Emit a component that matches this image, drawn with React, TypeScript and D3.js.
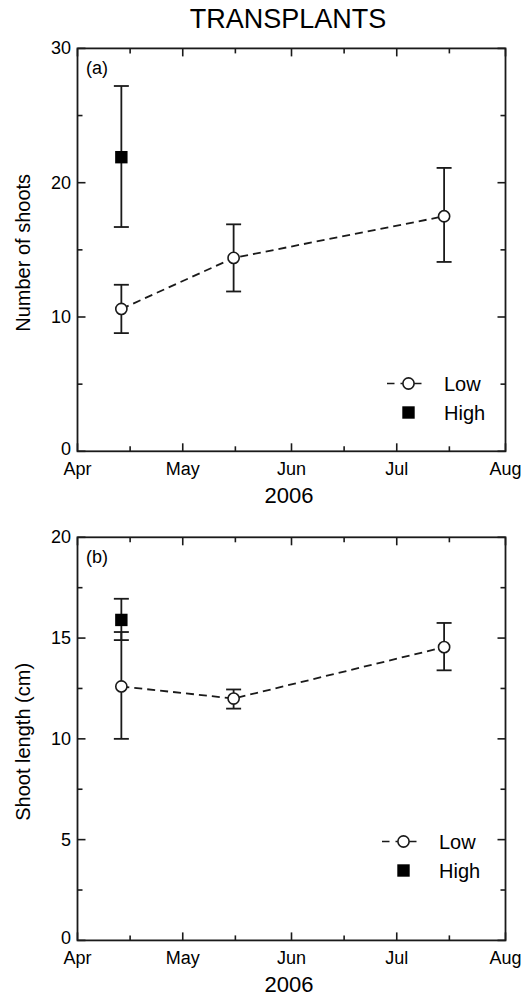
import React, { useEffect, useRef } from 'react';
import * as d3 from 'd3';

// sampling dates (2006)
const sampleDates = ['2006-04-13', '2006-05-15', '2006-07-14'];
const highDates = ['2006-04-13'];
const monthTicks = ['2006-04-01', '2006-05-01', '2006-06-01', '2006-07-01', '2006-08-01'];
const midMonthTicks = ['2006-04-16', '2006-05-16', '2006-06-16', '2006-07-16'];
const monthLabels = ['Apr', 'May', 'Jun', 'Jul', 'Aug'];

// (a) number of shoots
const shootsLow = [10.6, 14.4, 17.5];
const shootsLowMin = [8.8, 11.9, 14.1];
const shootsLowMax = [12.4, 16.9, 21.1];
const shootsHigh = [21.9];
const shootsHighMin = [16.7];
const shootsHighMax = [27.2];
const shootsTicks = [0, 10, 20, 30];
const shootsMinorTicks = [5, 15, 25];

// (b) shoot length (cm)
const lengthLow = [12.6, 12.0, 14.55];
const lengthLowMin = [10.0, 11.5, 13.4];
const lengthLowMax = [15.3, 12.45, 15.75];
const lengthHigh = [15.9];
const lengthHighMin = [14.9];
const lengthHighMax = [16.95];
const lengthTicks = [0, 5, 10, 15, 20];
const lengthMinorTicks = [2.5, 7.5, 12.5, 17.5];

const FONT = '"Liberation Sans", Arial, Helvetica, sans-serif';
const parse = (s: string) => { const [y, m, d] = s.split('-').map(Number); return new Date(y, m - 1, d, 12); };
const parseDay = (s: string) => { const [y, m, d] = s.split('-').map(Number); return new Date(y, m - 1, d); };

interface Series { dates: string[]; mean: number[]; min: number[]; max: number[]; }

interface PanelCfg {
  top: number;
  bottom: number;
  max: number;
  ticks: number[];
  minor: number[];
  tag: string;
  yTitle: string;
  low: Series;
  high: Series;
  legendX: number;
  legendY: number;
}

const App: React.FC = () => {
  const svgRef = useRef<SVGSVGElement>(null);

  useEffect(() => {
    if (!svgRef.current) return;
    const svg = d3.select(svgRef.current);
    svg.selectAll('*').remove();

    const left = 77.5;
    const right = 505.5;
    const x = d3.scaleTime()
      .domain([parseDay(monthTicks[0]), parseDay(monthTicks[monthTicks.length - 1])])
      .range([left, right]);

    svg.append('text')
      .attr('x', 288).attr('y', 27.5)
      .attr('text-anchor', 'middle')
      .attr('font-family', FONT).attr('font-size', 27)
      .text('TRANSPLANTS');

    const panels: PanelCfg[] = [
      {
        top: 48.4, bottom: 451.3, max: 30, ticks: shootsTicks, minor: shootsMinorTicks,
        tag: '(a)', yTitle: 'Number of shoots',
        low: { dates: sampleDates, mean: shootsLow, min: shootsLowMin, max: shootsLowMax },
        high: { dates: highDates, mean: shootsHigh, min: shootsHighMin, max: shootsHighMax },
        legendX: 408.5, legendY: 383.5
      },
      {
        top: 537.3, bottom: 940.4, max: 20, ticks: lengthTicks, minor: lengthMinorTicks,
        tag: '(b)', yTitle: 'Shoot length (cm)',
        low: { dates: sampleDates, mean: lengthLow, min: lengthLowMin, max: lengthLowMax },
        high: { dates: highDates, mean: lengthHigh, min: lengthHighMin, max: lengthHighMax },
        legendX: 403.5, legendY: 841.5
      }
    ];

    panels.forEach(p => {
      const y = d3.scaleLinear().domain([0, p.max]).range([p.bottom, p.top]);
      const g = svg.append('g');
      const stroke = '#1a1a1a';

      // frame
      g.append('rect')
        .attr('x', left).attr('y', p.top)
        .attr('width', right - left).attr('height', p.bottom - p.top)
        .attr('fill', 'none').attr('stroke', stroke).attr('stroke-width', 1.8);

      // x ticks (bottom + top, inward)
      const xMaj = monthTicks.map(parseDay);
      const xMin = midMonthTicks.map(parseDay);
      [[xMaj, 8], [xMin, 5]].forEach(([vals, len]: any) => {
        (vals as Date[]).forEach(d => {
          g.append('line').attr('x1', x(d)).attr('x2', x(d))
            .attr('y1', p.bottom).attr('y2', p.bottom - len)
            .attr('stroke', stroke).attr('stroke-width', 1.6);
          g.append('line').attr('x1', x(d)).attr('x2', x(d))
            .attr('y1', p.top).attr('y2', p.top + len)
            .attr('stroke', stroke).attr('stroke-width', 1.6);
        });
      });

      // y ticks (left + right, inward)
      [[p.ticks, 8], [p.minor, 5]].forEach(([vals, len]: any) => {
        (vals as number[]).forEach(v => {
          g.append('line').attr('x1', left).attr('x2', left + len)
            .attr('y1', y(v)).attr('y2', y(v))
            .attr('stroke', stroke).attr('stroke-width', 1.6);
          g.append('line').attr('x1', right).attr('x2', right - len)
            .attr('y1', y(v)).attr('y2', y(v))
            .attr('stroke', stroke).attr('stroke-width', 1.6);
        });
      });

      // tick labels
      p.ticks.forEach(v => {
        g.append('text')
          .attr('x', left - 6.5).attr('y', y(v) - (v === 0 ? 2 : 0))
          .attr('text-anchor', 'end').attr('dominant-baseline', 'central')
          .attr('font-family', FONT).attr('font-size', 18)
          .text(String(v));
      });
      xMaj.forEach((d, i) => {
        g.append('text')
          .attr('x', x(d)).attr('y', p.bottom + 24)
          .attr('text-anchor', 'middle')
          .attr('font-family', FONT).attr('font-size', 18)
          .text(monthLabels[i]);
      });

      // axis titles
      g.append('text')
        .attr('x', 289).attr('y', p.bottom + 51.5)
        .attr('text-anchor', 'middle')
        .attr('font-family', FONT).attr('font-size', 22)
        .text('2006');
      g.append('text')
        .attr('transform', `translate(30,${(p.top + p.bottom) / 2 + 3}) rotate(-90)`)
        .attr('text-anchor', 'middle')
        .attr('font-family', FONT).attr('font-size', 20)
        .text(p.yTitle);

      // panel tag
      g.append('text')
        .attr('x', 86).attr('y', p.top + 26)
        .attr('font-family', FONT).attr('font-size', 18)
        .text(p.tag);

      const errBars = (s: Series) => {
        s.dates.forEach((ds, i) => {
          const cx = x(parse(ds));
          g.append('line').attr('x1', cx).attr('x2', cx)
            .attr('y1', y(s.min[i])).attr('y2', y(s.max[i]))
            .attr('stroke', stroke).attr('stroke-width', 1.8);
          [s.min[i], s.max[i]].forEach(v => {
            g.append('line').attr('x1', cx - 7.5).attr('x2', cx + 7.5)
              .attr('y1', y(v)).attr('y2', y(v))
              .attr('stroke', stroke).attr('stroke-width', 1.8);
          });
        });
      };

      // low: dashed line
      const line = d3.line<number>()
        .x((_, i) => x(parse(p.low.dates[i])))
        .y(v => y(v));
      g.append('path')
        .datum(p.low.mean)
        .attr('d', line)
        .attr('fill', 'none').attr('stroke', stroke)
        .attr('stroke-width', 1.8).attr('stroke-dasharray', '8,5');

      errBars(p.low);
      errBars(p.high);

      p.high.dates.forEach((ds, i) => {
        g.append('rect')
          .attr('x', x(parse(ds)) - 6.2).attr('y', y(p.high.mean[i]) - 6.2)
          .attr('width', 12.4).attr('height', 12.4)
          .attr('fill', '#000');
      });
      p.low.dates.forEach((ds, i) => {
        g.append('circle')
          .attr('cx', x(parse(ds))).attr('cy', y(p.low.mean[i]))
          .attr('r', 5.6)
          .attr('fill', '#fff').attr('stroke', stroke).attr('stroke-width', 1.6);
      });

      // legend
      const lx = p.legendX;
      const ly = p.legendY;
      g.append('line')
        .attr('x1', lx - 21.5).attr('x2', lx + 15)
        .attr('y1', ly).attr('y2', ly)
        .attr('stroke', stroke).attr('stroke-width', 1.6)
        .attr('stroke-dasharray', '7.5,6');
      g.append('circle')
        .attr('cx', lx).attr('cy', ly).attr('r', 5.6)
        .attr('fill', '#fff').attr('stroke', stroke).attr('stroke-width', 1.6);
      g.append('text')
        .attr('x', lx + 35.5).attr('y', ly).attr('dominant-baseline', 'central')
        .attr('font-family', FONT).attr('font-size', 20)
        .text('Low');
      g.append('rect')
        .attr('x', lx - 6.2).attr('y', ly + 29 - 6.2)
        .attr('width', 12.4).attr('height', 12.4)
        .attr('fill', '#000');
      g.append('text')
        .attr('x', lx + 35.5).attr('y', ly + 29).attr('dominant-baseline', 'central')
        .attr('font-family', FONT).attr('font-size', 20)
        .text('High');
    });
  }, []);

  return (
    <svg
      ref={svgRef}
      width={527}
      height={997}
      style={{ position: 'absolute', left: 0, top: 0, background: '#fff' }}
    />
  );
};

export default App;
